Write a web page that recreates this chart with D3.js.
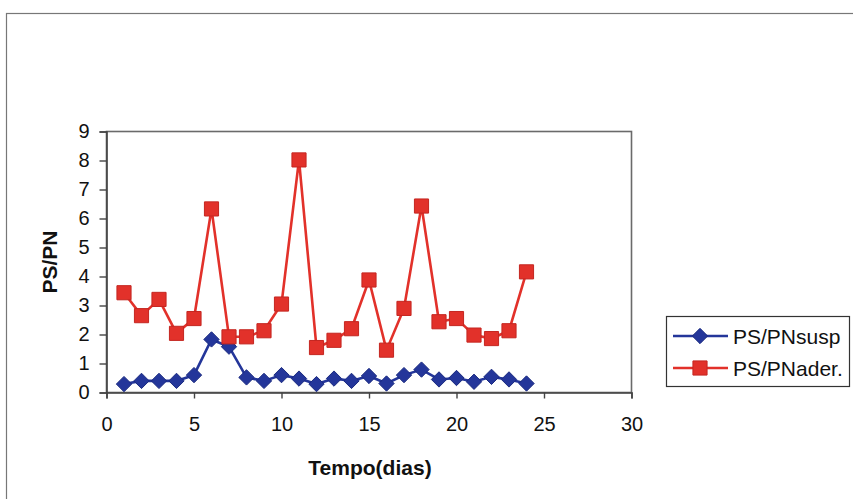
<!DOCTYPE html>
<html>
<head>
<meta charset="utf-8">
<script src="https://cdn.jsdelivr.net/npm/d3@7.9.0/dist/d3.min.js"></script>
<style>
  body { margin: 0; background: #fff; }
  svg { display: block; font-family: Arial, "Liberation Sans", sans-serif; }
</style>
</head>
<body>
<svg id="chart" width="853" height="499"></svg>
<script>
// Days (x values)
const days = d3.range(1, 25);

// PS/PN ratio in suspension
const susp = [0.29, 0.40, 0.40, 0.40, 0.60, 1.83, 1.58, 0.52, 0.40, 0.60, 0.48, 0.29,
              0.48, 0.40, 0.57, 0.31, 0.60, 0.79, 0.45, 0.50, 0.37, 0.54, 0.45, 0.31];

// PS/PN ratio adhered
const ader = [3.44, 2.65, 3.21, 2.04, 2.55, 6.33, 1.92, 1.92, 2.13, 3.05, 8.02, 1.55,
              1.80, 2.20, 3.88, 1.46, 2.90, 6.43, 2.44, 2.55, 1.98, 1.86, 2.13, 4.16];

const xTicks = [0, 5, 10, 15, 20, 25, 30];
const yTicks = [0, 1, 2, 3, 4, 5, 6, 7, 8, 9];

const series = [
  { name: 'PS/PNsusp', values: susp, color: '#24369a', marker: 'diamond' },
  { name: 'PS/PNader.', values: ader, color: '#e2312a', marker: 'square' },
];

const svg = d3.select('#chart');

// Outer chart frame
svg.append('rect')
  .attr('x', 6.5).attr('y', 13.5)
  .attr('width', 860).attr('height', 500)
  .attr('fill', 'none')
  .attr('stroke', '#777')
  .attr('stroke-width', 1.2);

// Plot area
const plot = { left: 106.5, right: 631.5, top: 131.5, bottom: 392.5 };

const xScale = d3.scaleLinear().domain([0, 30]).range([plot.left, plot.right]);
const yScale = d3.scaleLinear().domain([0, 9]).range([plot.bottom, plot.top]);

svg.append('rect')
  .attr('x', plot.left).attr('y', plot.top)
  .attr('width', plot.right - plot.left)
  .attr('height', plot.bottom - plot.top)
  .attr('fill', 'none')
  .attr('stroke', '#6a6a6a')
  .attr('stroke-width', 1.6);

// X axis
const xAxis = svg.append('g')
  .attr('transform', `translate(0, ${plot.bottom})`)
  .call(d3.axisBottom(xScale).tickValues(xTicks).tickSize(6).tickPadding(18));
xAxis.select('.domain').attr('stroke', '#444').attr('stroke-width', 1.6);
xAxis.selectAll('.tick line').attr('stroke', '#444').attr('stroke-width', 1.4);
xAxis.selectAll('text').attr('font-size', 20).attr('fill', '#111')
  .attr('font-family', 'Arial, "Liberation Sans", sans-serif');

// Y axis
const yAxis = svg.append('g')
  .attr('transform', `translate(${plot.left}, 0)`)
  .call(d3.axisLeft(yScale).tickValues(yTicks).tickSize(7).tickPadding(10));
yAxis.select('.domain').attr('stroke', '#444').attr('stroke-width', 1.6);
yAxis.selectAll('.tick line').attr('stroke', '#444').attr('stroke-width', 1.4);
yAxis.selectAll('text').attr('font-size', 20).attr('fill', '#111')
  .attr('font-family', 'Arial, "Liberation Sans", sans-serif');

// Axis titles
svg.append('text')
  .attr('x', (plot.left + plot.right) / 2 + 1)
  .attr('y', 475)
  .attr('text-anchor', 'middle')
  .attr('font-size', 21)
  .attr('font-weight', 'bold')
  .attr('fill', '#111')
  .text('Tempo(dias)');

svg.append('text')
  .attr('transform', `translate(57, ${(plot.top + plot.bottom) / 2}) rotate(-90)`)
  .attr('text-anchor', 'middle')
  .attr('font-size', 21)
  .attr('font-weight', 'bold')
  .attr('fill', '#111')
  .text('PS/PN');

// Marker shapes
const diamond = d3.symbol().type(d3.symbolDiamond2).size(150);
const square = d3.symbol().type(d3.symbolSquare).size(200);

function drawMarker(g, s) {
  if (s.marker === 'diamond') {
    g.append('path').attr('d', diamond()).attr('fill', s.color).attr('stroke', '#1a2a80').attr('stroke-width', 1);
  } else {
    g.append('path').attr('d', square()).attr('fill', s.color).attr('stroke', '#c42620').attr('stroke-width', 1);
  }
}

const line = d3.line()
  .x((d) => xScale(d[0]))
  .y((d) => yScale(d[1]));

series.forEach((s) => {
  const pts = days.map((d, i) => [d, s.values[i]]);
  svg.append('path')
    .datum(pts)
    .attr('fill', 'none')
    .attr('stroke', s.color)
    .attr('stroke-width', 2.6)
    .attr('d', line);

  svg.append('g')
    .selectAll('g')
    .data(pts)
    .join('g')
    .attr('transform', (d) => `translate(${xScale(d[0])}, ${yScale(d[1])})`)
    .each(function () { drawMarker(d3.select(this), s); });
});

// Legend
const legend = svg.append('g');
legend.append('rect')
  .attr('x', 666.5).attr('y', 316.5)
  .attr('width', 183).attr('height', 70)
  .attr('fill', '#fff')
  .attr('stroke', '#333')
  .attr('stroke-width', 1.2);

series.forEach((s, i) => {
  const y = 336 + i * 32;
  const row = legend.append('g');
  row.append('line')
    .attr('x1', 673).attr('x2', 728)
    .attr('y1', y).attr('y2', y)
    .attr('stroke', s.color)
    .attr('stroke-width', 2.6);
  const m = row.append('g').attr('transform', `translate(700, ${y})`);
  drawMarker(m, s);
  row.append('text')
    .attr('x', 733).attr('y', y + 7.5)
    .attr('font-size', 21)
    .attr('fill', '#111')
    .text(s.name);
});
</script>
</body>
</html>
